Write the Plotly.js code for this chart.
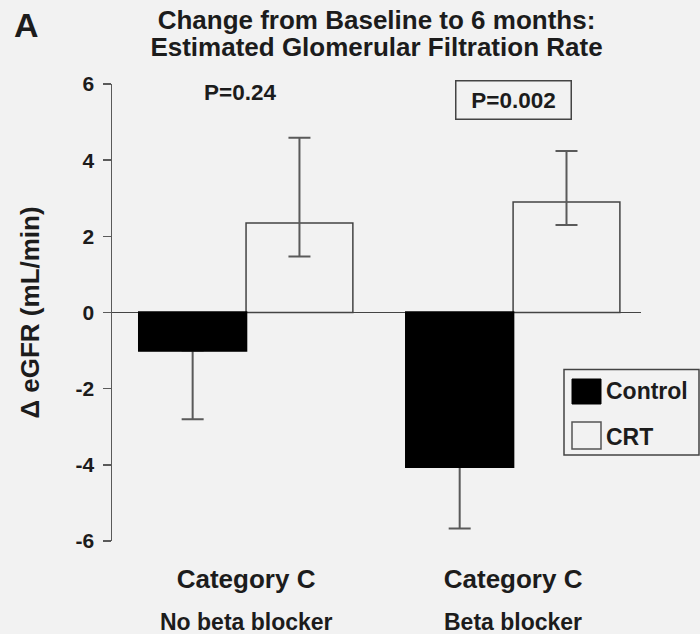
<!DOCTYPE html>
<html>
<head>
<meta charset="utf-8">
<script src="https://cdn.plot.ly/plotly-3.0.1.min.js"></script>
<style>
  html, body { margin: 0; padding: 0; background: #f2f2f2; }
  #chart { width: 700px; height: 634px; }
</style>
</head>
<body>
<div id="chart"></div>
<script>
// ---- data ----
const groupLabel = "Category C";
const categories = ["No beta blocker", "Beta blocker"];
const seriesNames = ["Control", "CRT"];
const controlValues = [-1.0, -4.05];
const controlErrUp = [0, 0];
const controlErrDown = [1.8, 1.62];
const crtValues = [2.35, 2.9];
const crtErrUp = [2.24, 1.34];
const crtErrDown = [0.88, 0.6];
const pLabels = ["P=0.24", "P=0.002"];
const pBoxed = [false, true];
const pY = [5.78, 5.58];
const titleLines = ["Change from Baseline to 6 months:", "Estimated Glomerular Filtration Rate"];
const yTitle = "\u0394 eGFR (mL/min)";
const yTicks = [-6, -4, -2, 0, 2, 4, 6];

// ---- style ----
const BG = "#f2f2f2";
const TXT = "#1c1c1c";
const AX = "#5a5a5a";
const FONT = "Liberation Sans, Arial, sans-serif";
const W = 700, H = 634;
const M = {l: 112, r: 59, t: 84, b: 93};
const PW = W - M.l - M.r, PH = H - M.t - M.b;
const px = x => (x - M.l) / PW;
const py = y => (H - M.b - y) / PH;

const traces = [
  {
    type: "bar", name: seriesNames[0], x: categories, y: controlValues, offsetgroup: "control",
    marker: {color: "#000000", line: {color: "#000000", width: 1}},
    error_y: {type: "data", symmetric: false, array: controlErrUp, arrayminus: controlErrDown,
              color: AX, thickness: 2, width: 11},
    showlegend: false, hoverinfo: "skip"
  },
  {
    type: "bar", name: seriesNames[1], x: categories, y: crtValues, offsetgroup: "crt",
    marker: {color: BG, line: {color: "#444444", width: 1.5}},
    error_y: {type: "data", symmetric: false, array: crtErrUp, arrayminus: crtErrDown,
              color: AX, thickness: 2, width: 11},
    showlegend: false, hoverinfo: "skip"
  },
  // same Control bars again, on top, so the error bar's cap at the bar end is hidden
  {
    type: "bar", name: seriesNames[0], x: categories, y: controlValues, offsetgroup: "control",
    marker: {color: "#000000", line: {color: "#000000", width: 2.5}},
    showlegend: false, hoverinfo: "skip"
  }
];

const annotations = [];
// panel letter
annotations.push({xref: "paper", yref: "paper", x: px(26), y: py(25), text: "A", showarrow: false,
  xanchor: "center", yanchor: "middle", font: {family: FONT, size: 34, weight: "bold", color: TXT}});
// sub-labels under categories
categories.forEach((c) => {
  annotations.push({xref: "x", yref: "paper", x: c, y: py(622), text: c, showarrow: false,
    xanchor: "center", yanchor: "middle", font: {family: FONT, size: 23, weight: "bold", color: TXT}});
});
// p values
categories.forEach((c, i) => {
  const a = {xref: "x", yref: "y", x: c, y: pY[i], text: pLabels[i], showarrow: false,
    xanchor: "center", yanchor: "middle", font: {family: FONT, size: 22.5, weight: "bold", color: TXT}};
  if (pBoxed[i]) {
    a.bordercolor = "#444444"; a.borderwidth = 1.5; a.borderpad = 1;
    a.width = 112; a.height = 35; a.bgcolor = BG;
  } else {
    a.xshift = -6;
  }
  annotations.push(a);
});
// legend (manual, large swatches)
const shapes = [
  {type: "rect", xref: "paper", yref: "paper", x0: px(564), x1: px(699), y0: py(455), y1: py(369.5),
   line: {color: "#444444", width: 1.5}, fillcolor: BG, layer: "above"},
  {type: "rect", xref: "paper", yref: "paper", x0: px(572), x1: px(601), y0: py(404), y1: py(379),
   line: {color: "#000000", width: 1}, fillcolor: "#000000", layer: "above"},
  {type: "rect", xref: "paper", yref: "paper", x0: px(572), x1: px(601), y0: py(449), y1: py(422),
   line: {color: "#555555", width: 1.5}, fillcolor: BG, layer: "above"}
];
[[391, 0], [437, 1]].forEach(([yc, i]) => {
  annotations.push({xref: "paper", yref: "paper", x: px(604), y: py(yc), text: seriesNames[i],
    showarrow: false, xanchor: "left", yanchor: "middle",
    font: {family: FONT, size: 23, weight: "bold", color: TXT}});
});

const layout = {
  width: W, height: H,
  paper_bgcolor: BG, plot_bgcolor: BG,
  margin: M,
  font: {family: FONT, color: TXT},
  title: {
    text: titleLines.map(t => '<span style="font-size:26px">' + t + '</span>').join("<br>"),
    font: {family: FONT, size: 20.8, weight: "bold", color: TXT},
    xref: "paper", x: 0.5, xanchor: "center",
    yref: "container", y: 1 - 29 / H, yanchor: "top"
  },
  barmode: "group", bargap: 0.2, bargroupgap: 0,
  xaxis: {
    type: "category", range: [-0.502, 1.479],
    tickvals: categories, ticktext: categories.map(() => groupLabel),
    showline: false, showgrid: false, zeroline: false, ticks: "",
    ticklabelstandoff: 20,
    tickfont: {family: FONT, size: 26, weight: "bold", color: TXT}
  },
  yaxis: {
    range: [-6, 6], tickvals: yTicks, ticktext: yTicks.map(String),
    showgrid: false, zeroline: true, zerolinecolor: "#444444", zerolinewidth: 1.5,
    showline: true, linecolor: AX, linewidth: 1.5,
    ticks: "outside", ticklen: 8, tickwidth: 1.5, tickcolor: AX,
    ticklabelstandoff: 4,
    tickfont: {family: FONT, size: 21, weight: "bold", color: TXT},
    title: {text: yTitle, standoff: 28, font: {family: FONT, size: 26, weight: "bold", color: TXT}}
  },
  annotations: annotations,
  shapes: shapes
};

Plotly.newPlot("chart", traces, layout, {displayModeBar: false, staticPlot: true});
</script>
</body>
</html>
